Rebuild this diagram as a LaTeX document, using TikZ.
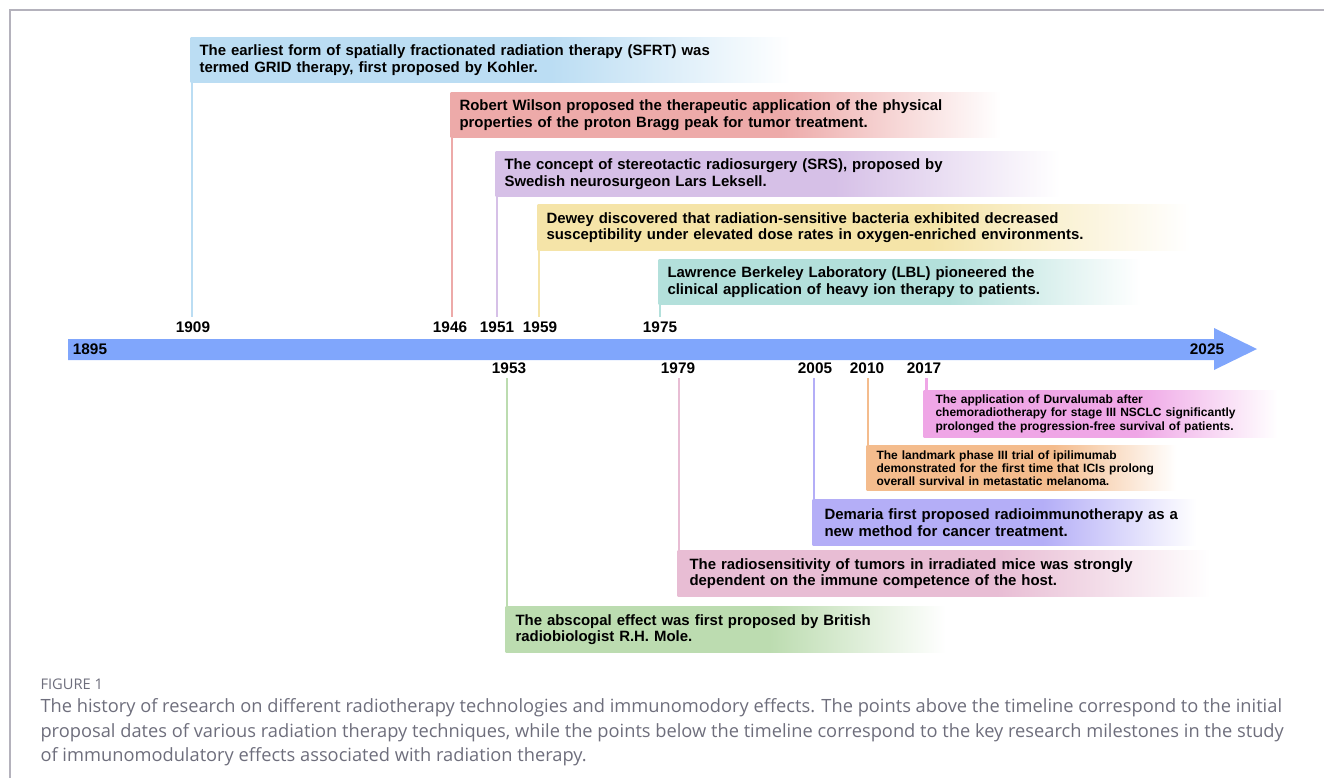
\documentclass[tikz,border=0pt]{standalone}
\usepackage{fontspec}
\setmainfont{Liberation Sans}
\newfontfamily\capfont{Open Sans}
\usetikzlibrary{calc}

\definecolor{arrowblue}{HTML}{80A6FC}
\definecolor{framegray}{HTML}{B4B2BC}
\definecolor{capgray}{HTML}{6E6E7C}
\definecolor{c1909}{HTML}{BBDDF3}
\definecolor{c1946}{HTML}{EDAAA9}
\definecolor{c1951}{HTML}{D6C0E7}
\definecolor{c1959}{HTML}{F5E4A8}
\definecolor{c1975}{HTML}{B3E0DB}
\definecolor{c1953}{HTML}{BCDCB0}
\definecolor{c1979}{HTML}{E8BDD4}
\definecolor{c2005}{HTML}{B4AEF7}
\definecolor{c2010}{HTML}{F4BC8D}
\definecolor{c2017}{HTML}{EFA6E6}
\colorlet{boxcol}{c1909}

% solid colour on the left, fading out to white on the right
% (tikz maps the box onto 25bp..75bp of the shading)
\pgfdeclarehorizontalshading[boxcol]{boxfade}{100bp}{color(0bp)=(boxcol); color(25bp)=(boxcol); color(55bp)=(boxcol); color(75bp)=(white); color(100bp)=(white)}

\tikzset{
  evbox/.style={anchor=north west, shade, shading=boxfade, align=left, inner ysep=0pt,
    font=\fontsize{11.2}{12.4}\selectfont\bfseries, /utils/exec={\colorlet{boxcol}{#1}}},
  evsmall/.style={font=\fontsize{9}{9.8}\selectfont\bfseries},
  year/.style={font=\fontsize{11.5}{13}\selectfont\bfseries, inner sep=3pt},
  tick/.style={line width=2.2pt, draw=#1}
}

\begin{document}
\begin{tikzpicture}[thick, x=0.75pt, y=-0.75pt]
        \useasboundingbox (0,0) rectangle (1324,778);
        \draw[framegray, line width=1pt] (10,778) -- (10,10) -- (1324,10);
        % timeline
        \fill[arrowblue] (68,339) -- (1214,339) -- (1214,328) -- (1257,349)
            -- (1214,370) -- (1214,360) -- (68,360) -- cycle;
        \node[year] (y1895) at (90,349) {1895};
        \node[year] (y2025) at (1207,349) {2025};
        % above the timeline
        \node[year] (y1909) at (193,327) {1909};
        \node[year] (y1946) at (450,327) {1946};
        \node[year] (y1951) at (497,327) {1951};
        \node[year] (y1959) at (540,327) {1959};
        \node[year] (y1975) at (660,327) {1975};
        \node[evbox=c1909, text width=436.5pt, inner xsep=6.75pt, minimum height=33.75pt] (e1909) at (190,37)
            {The earliest form of spatially fractionated radiation therapy (SFRT) was\\ termed GRID therapy, first proposed by Kohler.};
        \node[evbox=c1946, text width=399pt, inner xsep=6.75pt, minimum height=33.75pt] (e1946) at (450,92)
            {Robert Wilson proposed the therapeutic application of the physical\\ properties of the proton Bragg peak for tumor treatment.};
        \node[evbox=c1951, text width=410pt, inner xsep=6.75pt, minimum height=33.75pt] (e1951) at (495,151)
            {The concept of stereotactic radiosurgery (SRS), proposed by\\ Swedish neurosurgeon Lars Leksell.};
        \node[evbox=c1959, text width=476pt, inner xsep=6.75pt, minimum height=34.5pt] (e1959) at (537,204)
            {Dewey discovered that radiation-sensitive bacteria exhibited decreased\\ susceptibility under elevated dose rates in oxygen-enriched environments.};
        \node[evbox=c1975, text width=348pt, inner xsep=6.75pt, minimum height=33.75pt] (e1975) at (658,259)
            {Lawrence Berkeley Laboratory (LBL) pioneered the\\ clinical application of heavy ion therapy to patients.};
        \draw[tick=c1909] ([xshift=1.5pt]e1909.south west) -- ([xshift=1.5pt]e1909.south west |- y1909.north);
        \draw[tick=c1946] ([xshift=1.5pt]e1946.south west) -- ([xshift=1.5pt]e1946.south west |- y1946.north);
        \draw[tick=c1951] ([xshift=1.5pt]e1951.south west) -- ([xshift=1.5pt]e1951.south west |- y1951.north);
        \draw[tick=c1959] ([xshift=1.5pt]e1959.south west) -- ([xshift=1.5pt]e1959.south west |- y1959.north);
        \draw[tick=c1975] ([xshift=1.5pt]e1975.south west) -- ([xshift=1.5pt]e1975.south west |- y1975.north);
        % below the timeline
        \node[year] (y1953) at (509,368) {1953};
        \node[year] (y1979) at (678,368) {1979};
        \node[year] (y2005) at (815,368) {2005};
        \node[year] (y2010) at (867,368) {2010};
        \node[year] (y2017) at (924,368) {2017};
        \node[evbox=c2017, evsmall, text width=247.5pt, inner xsep=9pt, minimum height=35pt] (e2017) at (923,390)
            {The application of Durvalumab after\\ chemoradiotherapy for stage III NSCLC significantly\\ prolonged the progression-free survival of patients.};
        \node[evbox=c2010, evsmall, text width=217.5pt, inner xsep=7.5pt, minimum height=33.75pt] (e2010) at (866,445)
            {The landmark phase III trial of ipilimumab\\ demonstrated for the first time that ICIs prolong\\ overall survival in metastatic melanoma.};
        \node[evbox=c2005, text width=270pt, inner xsep=9pt, minimum height=34.5pt] (e2005) at (812,499)
            {Demaria first proposed radioimmunotherapy as~a\\ new method for cancer treatment.};
        \node[evbox=c1979, text width=381.75pt, inner xsep=9pt, minimum height=34.5pt] (e1979) at (677,550)
            {The radiosensitivity of tumors in irradiated mice was strongly\\ dependent on the immune competence of the host.};
        \node[evbox=c1953, text width=315pt, inner xsep=7.5pt, minimum height=34.5pt] (e1953) at (505,606)
            {The abscopal effect was first proposed by British\\ radiobiologist R.H. Mole.};
        \draw[tick=c1953] ([xshift=1.5pt]e1953.north west |- y1953.south) -- ([xshift=1.5pt]e1953.north west);
        \draw[tick=c1979] ([xshift=1.5pt]e1979.north west |- y1979.south) -- ([xshift=1.5pt]e1979.north west);
        \draw[tick=c2005] ([xshift=1.5pt]e2005.north west |- y2005.south) -- ([xshift=1.5pt]e2005.north west);
        \draw[tick=c2010] ([xshift=1.5pt]e2010.north west |- y2010.south) -- ([xshift=1.5pt]e2010.north west);
        \draw[tick=c2017] ([xshift=2.5pt]e2017.north west |- y2017.south) -- ([xshift=2.5pt]e2017.north west);
        % caption
        \node[anchor=base west, inner sep=0pt, text=capgray, font=\capfont\fontsize{11}{13}\selectfont] (fig) at (40,689) {FIGURE 1};
        \node[anchor=north west, inner sep=0pt, text=capgray, align=left, font=\capfont\fontsize{13.7}{18.4}\selectfont] (cap) at (40,698)
            {The history of research on different radiotherapy technologies and immunomodory effects. The points above the timeline correspond to the initial\\
             proposal dates of various radiation therapy techniques, while the points below the timeline correspond to the key research milestones in the study\\
             of immunomodulatory effects associated with radiation therapy.};
\end{tikzpicture}
\end{document}
